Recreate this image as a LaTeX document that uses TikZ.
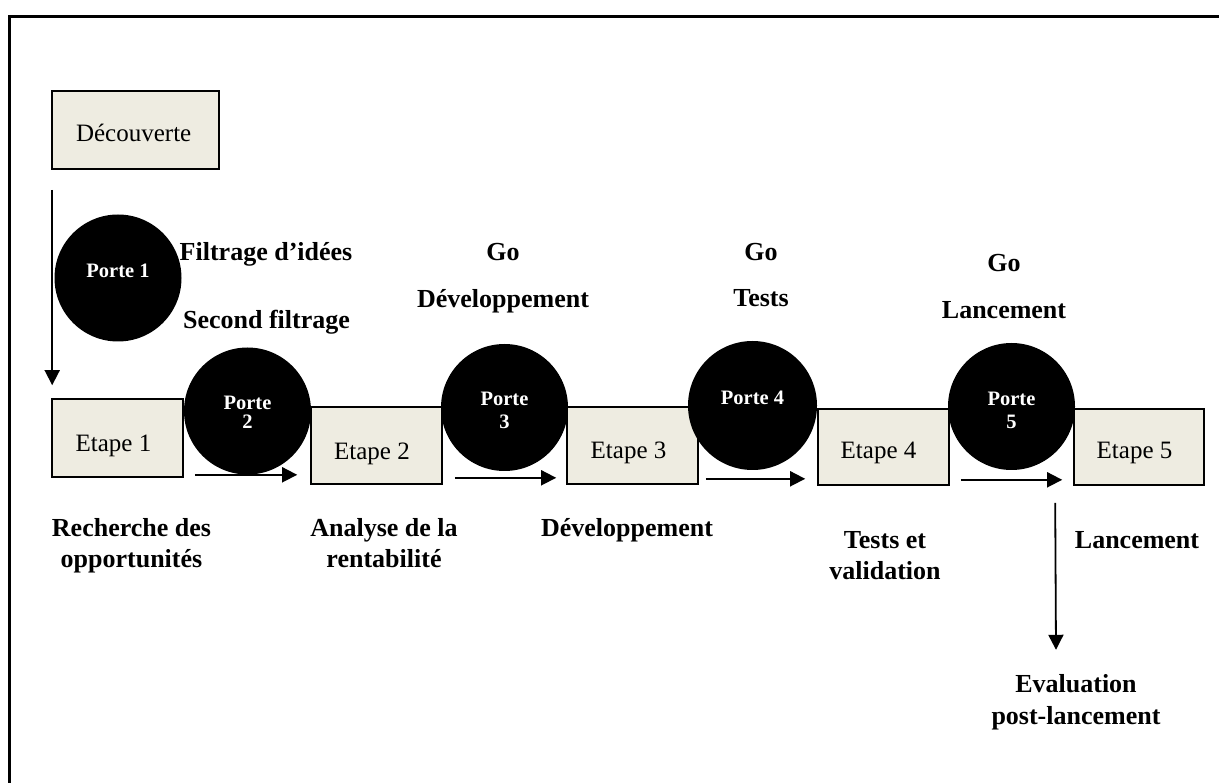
\documentclass[tikz,border=0pt]{standalone}
\usepackage{fontspec}
\setmainfont{Liberation Serif}
\usetikzlibrary{arrows.meta}
\definecolor{stagefill}{HTML}{EEECE1}

\begin{document}
\begin{tikzpicture}[x=1pt,y=-1pt,
  stagebox/.style={draw=black,line width=1.6pt,fill=stagefill,minimum width=131pt,minimum height=78pt,inner sep=0pt},
  stagetext/.style={font=\fontsize{25}{30}\selectfont,inner sep=0pt,text depth=0pt},
  gate/.style={circle,fill=black,minimum size=127pt,inner sep=0pt},
  gatetext/.style={text=white,font=\bfseries\fontsize{20.5}{23}\selectfont,align=center,inner sep=0pt,text depth=0pt},
  caption/.style={font=\bfseries\fontsize{26}{31}\selectfont,align=center,inner sep=0pt,text depth=0pt},
  flow/.style={line width=1.8pt,-{Triangle[length=15pt,width=15pt]}}
]
\useasboundingbox (0,0) rectangle (1219,783);

% open frame: top and left sides only
\draw[line width=2.7pt] (9.3,783) -- (9.3,16.3) -- (1219,16.3);

% stage boxes
\node[stagebox,minimum width=167pt] (dec) at (135.5,130) {};
\node[stagebox] (e1) at (117.5,438) {};
\node[stagebox,minimum height=77pt] (e2) at (376.5,445.5) {};
\node[stagebox,minimum height=77pt] (e3) at (632.5,445.5) {};
\node[stagebox,minimum height=76pt] (e4) at (883.5,447) {};
\node[stagebox,minimum height=76pt,minimum width=130pt] (e5) at (1139,447) {};

\node[stagetext] (dect) at (133.7,133) {Découverte};
\node[stagetext] (e1t) at (113.5,443) {Etape 1};
\node[stagetext] (e2t) at (372,451) {Etape 2};
\node[stagetext] (e3t) at (628.5,450) {Etape 3};
\node[stagetext] (e4t) at (878.5,450) {Etape 4};
\node[stagetext] (e5t) at (1134.5,450) {Etape 5};

% flow arrows
\draw[flow] ([xshift=1pt,yshift=-20pt]dec.south west) -- ([xshift=1pt,yshift=13pt]e1.north west);
\draw[flow] ([xshift=11pt,yshift=3pt]e1.south east) -- ([xshift=-13pt,yshift=10pt]e2.south west);
\draw[flow] ([xshift=12pt,yshift=7pt]e2.south east) -- ([xshift=-10pt,yshift=7pt]e3.south west);
\draw[flow] ([xshift=7pt,yshift=6pt]e3.south east) -- ([xshift=-12pt,yshift=7pt]e4.south west);
\draw[flow] ([xshift=11pt,yshift=6pt]e4.south east) -- ([xshift=-11pt,yshift=6pt]e5.south west);

% gates
\node[gate] (g1) at (118,278) {};
\node[gatetext] (g1t) at (118,271) {Porte 1};
\node[gate] (g2) at (247.5,411) {};
\node[gatetext] (g2t) at (247.5,412) {Porte\\[-4pt]2};
\node[gate] (g3) at (504.5,407.5) {};
\node[gatetext] (g3t) at (504.5,410.5) {Porte\\3};
\node[gate,minimum size=129pt] (g4) at (752.5,405.5) {};
\node[gatetext] (g4t) at (752.5,398) {Porte 4};
\node[gate] (g5) at (1011.5,406.5) {};
\node[gatetext] (g5t) at (1011.5,410) {Porte\\5};

% gate decisions
\node[caption] (c1a) at (266,251) {Filtrage d’idées};
\node[caption] (c1b) at (266.5,319) {Second filtrage};
\node[caption] (c3a) at (503,252) {Go};
\node[caption] (c3b) at (503,298) {Développement};
\node[caption] (c4a) at (761,252) {Go};
\node[caption] (c4b) at (761,298) {Tests};
\node[caption] (c5a) at (1004,263) {Go};
\node[caption] (c5b) at (1004,310) {Lancement};

% stage descriptions
\node[caption] (s1) at (131.5,542.5) {Recherche des\\opportunités};
\node[caption] (s2) at (384,543) {Analyse de la\\rentabilité};
\node[caption] (s3) at (627,527) {Développement};
\node[caption] (s4) at (885,555) {Tests et\\validation};
\node[caption] (s5) at (1137,540) {Lancement};
\node[caption,font=\bfseries\fontsize{26}{32}\selectfont] (ev) at (1076,699) {Evaluation\\post-lancement};

\draw[flow] ([xshift=-18pt,yshift=-17pt]e5.south west) -- ([xshift=-20pt,yshift=24pt]ev.north);
\end{tikzpicture}
\end{document}
